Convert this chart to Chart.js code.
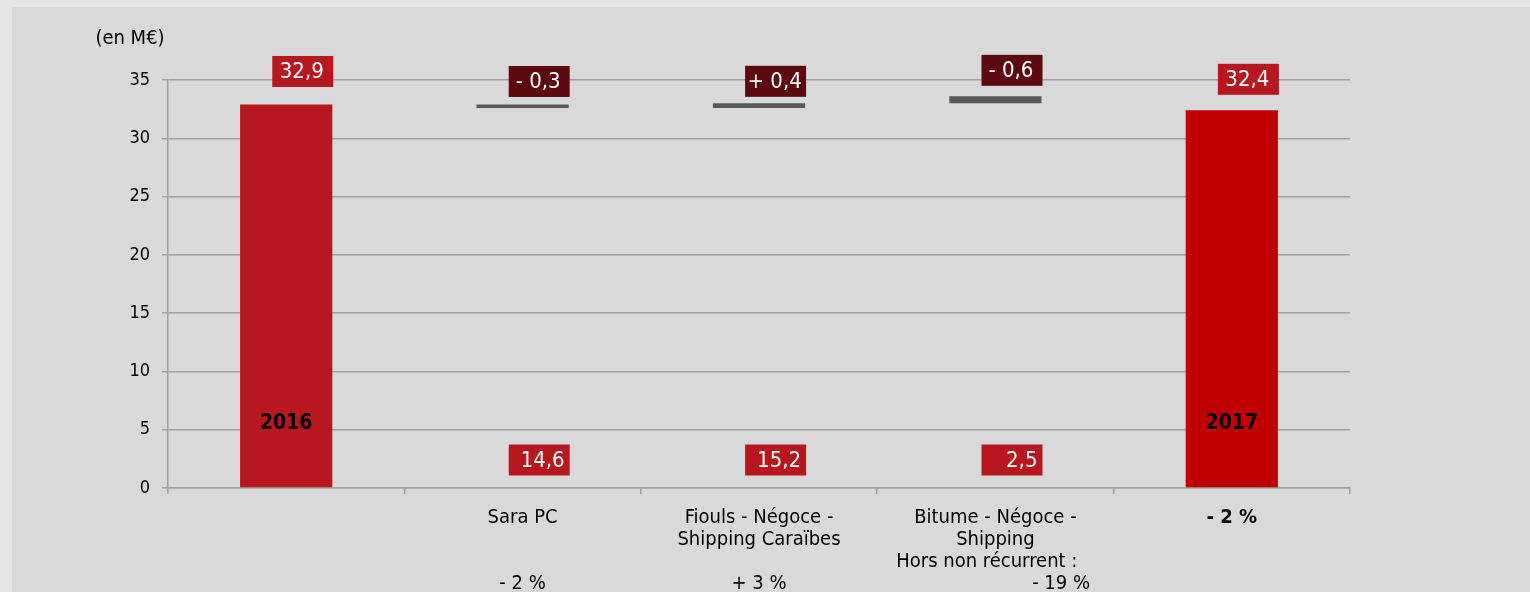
<!DOCTYPE html>
<html>
<head>
<meta charset="utf-8">
<script src="https://cdn.jsdelivr.net/npm/chart.js@4"></script>
<style>
  html, body { margin: 0; padding: 0; background: #e6e6e6; overflow: hidden; }
  #panel { position: absolute; left: 12px; top: 7px; width: 1518px; height: 585px; background: #d9d9d9; }
  canvas { display: block; }
</style>
</head>
<body>
<div id="panel"><canvas id="c" width="1518" height="585" style="width:1518px;height:585px"></canvas></div>
<script>
// ---- data ----
const categories = ['2016', 'Sara PC', 'Fiouls - Négoce - Shipping Caraïbes', 'Bitume - Négoce - Shipping', '2017'];
const barStarts = [0, 32.6, 32.6, 33.0, 0];
const barEnds   = [32.9, 32.9, 33.0, 33.6, 32.4];
const topLabels = ['32,9', '- 0,3', '+ 0,4', '- 0,6', '32,4'];
const segmentValues = ['', '14,6', '15,2', '2,5', ''];
const yearLabels = ['2016', '', '', '', '2017'];
const xTickLabels = [
  '',
  ['Sara PC', '', '', '- 2 %'],
  ['Fiouls - Négoce -', 'Shipping Caraïbes', '', '+ 3 %'],
  ['Bitume - Négoce -', 'Shipping', 'Hors non récurrent :   ', '                       - 19 %'],
  '- 2 %'
];
const yTicks = { min: 0, max: 35, step: 5 };
const unitLabel = '(en M€)';

// ---- styles ----
const FONT = '"DejaVu Sans Condensed", "DejaVu Sans", sans-serif';
const barColors = ['#b7171e', '#595959', '#595959', '#595959', '#c00000'];
const topBoxColors = ['#b7171e', '#5c0a0e', '#5c0a0e', '#5c0a0e', '#b7171e'];
const topBoxLift = [33, 23, 22, 26, 31];   // px from bar top to box centre
const gridColor = '#a0a0a0';

const labelPlugin = {
  id: 'labelPlugin',
  afterDatasetsDraw(chart) {
    const ctx = chart.ctx;
    const meta = chart.getDatasetMeta(0);
    ctx.save();
    // unit label
    ctx.font = '20px ' + FONT;
    ctx.fillStyle = '#000';
    ctx.textAlign = 'center';
    ctx.textBaseline = 'middle';
    ctx.fillText(unitLabel, 118, 32);

    const bw = 61, bh = 31;
    meta.data.forEach((bar, i) => {
      const right = bar.x + bar.width / 2 + 1;
      const top = Math.min(bar.y, bar.base);
      // top label box
      const cy = top - topBoxLift[i];
      ctx.fillStyle = topBoxColors[i];
      ctx.fillRect(right - bw, cy - bh / 2, bw, bh);
      ctx.fillStyle = '#fff';
      ctx.font = '22px ' + FONT;
      ctx.textAlign = 'center';
      ctx.textBaseline = 'middle';
      ctx.fillText(topLabels[i], right - bw / 2 - 1, cy + 1);
      // segment value box near base
      if (segmentValues[i]) {
        const base = chart.scales.y.getPixelForValue(0);
        const cy2 = base - 28;
        ctx.fillStyle = '#b7171e';
        ctx.fillRect(right - bw, cy2 - bh / 2, bw, bh);
        ctx.fillStyle = '#fff';
        ctx.textAlign = 'right';
        ctx.fillText(segmentValues[i], right - 5, cy2 + 1);
      }
      if (yearLabels[i]) {
        const base = chart.scales.y.getPixelForValue(0);
        ctx.fillStyle = '#000';
        ctx.font = 'bold 21px ' + FONT;
        ctx.textAlign = 'center';
        ctx.fillText(yearLabels[i], bar.x, base - 64);
      }
    });
    ctx.restore();
  }
};

new Chart(document.getElementById('c'), {
  type: 'bar',
  data: {
    labels: categories,
    datasets: [{
      data: barStarts.map((s, i) => [s, barEnds[i]]),
      backgroundColor: barColors,
      borderWidth: 0,
      borderSkipped: false,
      categoryPercentage: 1,
      barPercentage: 0.39
    }]
  },
  options: {
    responsive: false,
    animation: false,
    devicePixelRatio: 1,
    layout: { padding: { top: 73, right: 180, left: 0, bottom: 0 } },
    plugins: { legend: { display: false }, tooltip: { enabled: false } },
    scales: {
      x: {
        afterFit: s => { s.height = 104; },
        grid: { offset: true, drawOnChartArea: false, drawTicks: true, tickLength: 6, color: gridColor, lineWidth: 1.5 },
        border: { display: true, color: gridColor, width: 1.5 },
        ticks: {
          callback: (v, i) => xTickLabels[i],
          autoSkip: false,
          maxRotation: 0,
          padding: 13,
          color: '#000',
          font: ctx => ({ family: FONT, size: 20, weight: ctx.index === 4 ? 'bold' : 'normal', lineHeight: '22px' })
        }
      },
      y: {
        min: yTicks.min,
        max: yTicks.max,
        afterFit: s => { s.width = 156; },
        grid: { color: gridColor, lineWidth: 1.5, tickLength: 6 },
        border: { display: true, color: gridColor, width: 1.5 },
        ticks: { stepSize: yTicks.step, padding: 12, color: '#000', font: { family: FONT, size: 18 } }
      }
    }
  },
  plugins: [labelPlugin]
});
</script>
</body>
</html>
